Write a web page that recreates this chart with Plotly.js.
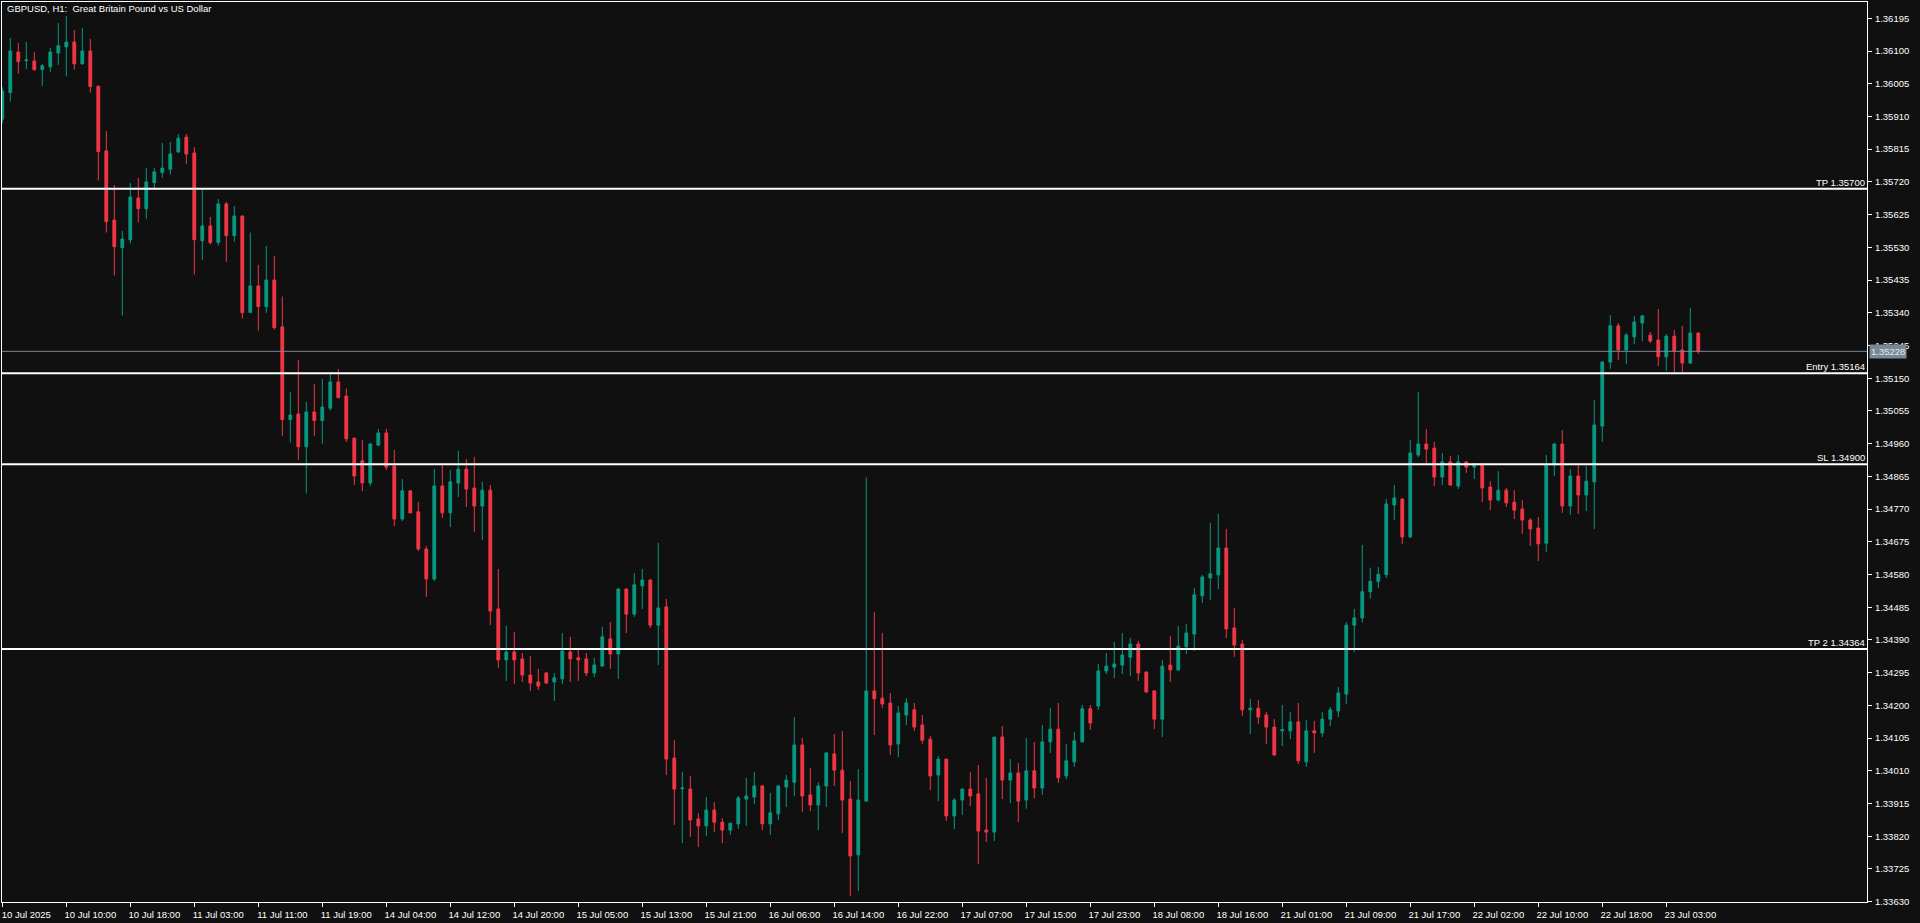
<!DOCTYPE html>
<html>
<head>
<meta charset="utf-8">
<script src="https://cdn.plot.ly/plotly-3.0.1.min.js"></script>
<style>
html,body{margin:0;padding:0;background:#101010;overflow:hidden;}
#chart{width:1920px;height:923px;}
</style>
</head>
<body>
<div id="chart"></div>
<script>
// ---- Data (GBPUSD H1, bar by bar) ----
const openPrices = [
1.35902,1.35979,1.36097,1.36072,1.36071,1.36046,1.36054,1.36094,1.36112,1.36126,
1.36063,1.36100,1.35998,1.35810,1.35609,1.35529,1.35552,1.35673,1.35642,1.35718,
1.35747,1.35757,1.35807,1.35850,1.35804,1.35549,1.35592,1.35544,1.35656,1.35564,
1.35621,1.35341,1.35418,1.35358,1.35435,1.35299,1.35030,1.35046,1.34951,1.35052,
1.35027,1.35063,1.35139,1.35098,1.34976,1.34910,1.34846,1.34956,1.34991,1.34895,
1.34741,1.34823,1.34762,1.34654,1.34567,1.34837,1.34759,1.34846,1.34886,1.34831,
1.34779,1.34825,1.34480,1.34332,1.34355,1.34335,1.34288,1.34268,1.34294,1.34268,
1.34277,1.34355,1.34338,1.34335,1.34294,1.34314,1.34393,1.34349,1.34538,1.34465,
1.34547,1.34564,1.34433,1.34486,1.34047,1.33958,1.33957,1.33870,1.33850,1.33896,
1.33861,1.33838,1.33856,1.33928,1.33934,1.33966,1.33856,1.33885,1.33963,1.33977,
1.34085,1.33940,1.33911,1.33966,1.34059,1.34012,1.33928,1.33766,1.33922,1.34242,
1.34221,1.34207,1.34088,1.34172,1.34187,1.34143,1.34102,1.33998,1.34044,1.33879,
1.33925,1.33957,1.33943,1.33838,1.33832,1.34108,1.33983,1.34004,1.33925,1.34010,
1.33960,1.34094,1.34131,1.33995,1.34036,1.34094,1.34190,1.34198,1.34300,1.34311,
1.34317,1.34340,1.34378,1.34297,1.34242,1.34160,1.34317,1.34303,1.34370,1.34407,
1.34518,1.34570,1.34579,1.34657,1.34425,1.34378,1.34187,1.34192,1.34172,1.34137,
1.34126,1.34126,1.34152,1.34036,1.34126,1.34120,1.34160,1.34184,1.34233,1.34433,
1.34454,1.34530,1.34560,1.34580,1.34782,1.34799,1.34689,1.34927,1.34959,1.34947,
1.34863,1.34907,1.34837,1.34907,1.34892,1.34898,1.34834,1.34796,1.34825,1.34790,
1.34770,1.34738,1.34715,1.34671,1.34898,1.34959,1.34779,1.34866,1.34811,1.34849,
1.35011,1.35197,1.35302,1.35232,1.35270,1.35310,1.35275,1.35261,1.35212,1.35272,
1.35232,1.35194,1.35281];
const highPrices = [
1.35995,1.36138,1.36124,1.36126,1.36097,1.36062,1.36109,1.36181,1.36202,1.36161,
1.36167,1.36135,1.35999,1.35868,1.35711,1.35578,1.35717,1.35731,1.35760,1.35760,
1.35833,1.35836,1.35859,1.35859,1.35821,1.35699,1.35618,1.35670,1.35662,1.35650,
1.35622,1.35573,1.35479,1.35534,1.35505,1.35387,1.35110,1.35203,1.35081,1.35133,
1.35148,1.35162,1.35177,1.35120,1.34977,1.34971,1.34962,1.35003,1.35003,1.34942,
1.34857,1.34824,1.34791,1.34663,1.34886,1.34898,1.34883,1.34939,1.34915,1.34921,
1.34849,1.34840,1.34596,1.34431,1.34413,1.34352,1.34343,1.34306,1.34297,1.34294,
1.34410,1.34399,1.34361,1.34352,1.34338,1.34428,1.34442,1.34539,1.34539,1.34584,
1.34596,1.34567,1.34672,1.34509,1.34100,1.34007,1.33995,1.33887,1.33934,1.33919,
1.33873,1.33859,1.33937,1.33989,1.34007,1.33969,1.33946,1.33969,1.33998,1.34166,
1.34105,1.34018,1.33977,1.34065,1.34117,1.34126,1.33980,1.34015,1.34862,1.34471,
1.34410,1.34236,1.34198,1.34221,1.34207,1.34172,1.34111,1.34053,1.34045,1.33931,
1.33958,1.34007,1.34027,1.33989,1.34108,1.34140,1.34044,1.34033,1.34105,1.34094,
1.34143,1.34192,1.34207,1.34088,1.34123,1.34201,1.34201,1.34320,1.34352,1.34384,
1.34410,1.34396,1.34387,1.34298,1.34243,1.34332,1.34401,1.34430,1.34436,1.34541,
1.34579,1.34730,1.34756,1.34712,1.34483,1.34390,1.34219,1.34216,1.34181,1.34160,
1.34201,1.34181,1.34207,1.34158,1.34155,1.34181,1.34195,1.34253,1.34442,1.34480,
1.34666,1.34600,1.34602,1.34799,1.34840,1.34802,1.34971,1.35110,1.35002,1.34965,
1.34933,1.34924,1.34927,1.34908,1.34903,1.34901,1.34851,1.34880,1.34831,1.34825,
1.34796,1.34744,1.34747,1.34927,1.34962,1.34999,1.34886,1.34898,1.34895,1.35087,
1.35200,1.35333,1.35310,1.35281,1.35331,1.35333,1.35284,1.35351,1.35278,1.35290,
1.35302,1.35354,1.35284];
const lowPrices = [
1.35890,1.35953,1.36034,1.36048,1.36042,1.35999,1.36039,1.36060,1.36026,1.36046,
1.36060,1.35979,1.35724,1.35573,1.35448,1.35332,1.35541,1.35602,1.35613,1.35697,
1.35732,1.35741,1.35804,1.35773,1.35451,1.35494,1.35538,1.35535,1.35488,1.35546,
1.35323,1.35340,1.35288,1.35340,1.35291,1.34983,1.34963,1.34913,1.34815,1.34983,
1.34960,1.35056,1.35091,1.34965,1.34840,1.34822,1.34837,1.34953,1.34883,1.34721,
1.34735,1.34758,1.34648,1.34515,1.34561,1.34744,1.34718,1.34805,1.34776,1.34703,
1.34680,1.34433,1.34309,1.34271,1.34262,1.34268,1.34242,1.34245,1.34262,1.34213,
1.34262,1.34268,1.34271,1.34285,1.34282,1.34313,1.34306,1.34277,1.34410,1.34457,
1.34480,1.34425,1.34317,1.33998,1.33853,1.33800,1.33818,1.33789,1.33821,1.33832,
1.33800,1.33824,1.33841,1.33850,1.33914,1.33838,1.33824,1.33867,1.33905,1.33937,
1.33890,1.33893,1.33838,1.33905,1.33966,1.33829,1.33646,1.33661,1.33921,1.34114,
1.34192,1.34056,1.34050,1.34143,1.34126,1.34088,1.33954,1.33922,1.33864,1.33841,
1.33882,1.33908,1.33739,1.33803,1.33806,1.33928,1.33916,1.33861,1.33900,1.33930,
1.33940,1.34062,1.33975,1.33985,1.34021,1.34093,1.34129,1.34187,1.34291,1.34279,
1.34291,1.34285,1.34271,1.34236,1.34131,1.34108,1.34268,1.34300,1.34349,1.34358,
1.34497,1.34506,1.34538,1.34396,1.34341,1.34169,1.34117,1.34146,1.34088,1.34053,
1.34082,1.34102,1.34030,1.34021,1.34062,1.34108,1.34140,1.34166,1.34204,1.34355,
1.34440,1.34510,1.34540,1.34570,1.34738,1.34669,1.34686,1.34921,1.34903,1.34837,
1.34840,1.34837,1.34828,1.34875,1.34857,1.34790,1.34767,1.34793,1.34776,1.34741,
1.34698,1.34663,1.34619,1.34645,1.34866,1.34759,1.34753,1.34756,1.34764,1.34712,
1.34965,1.35177,1.35203,1.35191,1.35249,1.35258,1.35252,1.35185,1.35171,1.35168,
1.35168,1.35191,1.35220];
const closePrices = [
1.35984,1.36100,1.36069,1.36074,1.36046,1.36057,1.36097,1.36115,1.36126,1.36063,
1.36100,1.35997,1.35808,1.35605,1.35532,1.35554,1.35676,1.35642,1.35720,1.35749,
1.35760,1.35801,1.35847,1.35801,1.35552,1.35592,1.35544,1.35656,1.35564,1.35621,
1.35340,1.35418,1.35358,1.35435,1.35297,1.35030,1.35043,1.34951,1.35052,1.35027,
1.35066,1.35139,1.35094,1.34974,1.34866,1.34846,1.34959,1.34991,1.34892,1.34741,
1.34823,1.34759,1.34654,1.34567,1.34837,1.34759,1.34849,1.34886,1.34828,1.34779,
1.34825,1.34474,1.34332,1.34355,1.34332,1.34288,1.34265,1.34256,1.34265,1.34280,
1.34358,1.34335,1.34332,1.34294,1.34317,1.34399,1.34349,1.34538,1.34465,1.34550,
1.34564,1.34433,1.34483,1.34044,1.33957,1.33960,1.33867,1.33850,1.33896,1.33861,
1.33838,1.33858,1.33931,1.33937,1.33966,1.33856,1.33888,1.33966,1.33983,1.34085,
1.33937,1.33911,1.33966,1.34062,1.34012,1.33925,1.33763,1.33925,1.34242,1.34219,
1.34204,1.34085,1.34178,1.34207,1.34137,1.34099,1.33995,1.34044,1.33879,1.33925,
1.33957,1.33937,1.33835,1.33832,1.34108,1.33983,1.34004,1.33922,1.34010,1.33960,
1.34094,1.34131,1.33990,1.34039,1.34097,1.34190,1.34149,1.34300,1.34314,1.34320,
1.34346,1.34378,1.34294,1.34239,1.34160,1.34314,1.34303,1.34372,1.34410,1.34521,
1.34573,1.34582,1.34657,1.34422,1.34375,1.34187,1.34192,1.34166,1.34137,1.34056,
1.34130,1.34152,1.34039,1.34126,1.34120,1.34160,1.34187,1.34236,1.34433,1.34454,
1.34530,1.34560,1.34580,1.34785,1.34802,1.34689,1.34933,1.34959,1.34944,1.34863,
1.34907,1.34840,1.34907,1.34892,1.34901,1.34831,1.34796,1.34825,1.34788,1.34767,
1.34738,1.34712,1.34669,1.34898,1.34959,1.34779,1.34866,1.34811,1.34851,1.35014,
1.35197,1.35302,1.35232,1.35275,1.35313,1.35331,1.35258,1.35212,1.35272,1.35229,
1.35194,1.35281,1.35228];

// Time-axis labels (one every 8 bars, as drawn by the terminal)
const timeLabels = ["10 Jul 2025","10 Jul 10:00","10 Jul 18:00","11 Jul 03:00","11 Jul 11:00",
"11 Jul 19:00","14 Jul 04:00","14 Jul 12:00","14 Jul 20:00","15 Jul 05:00","15 Jul 13:00",
"15 Jul 21:00","16 Jul 06:00","16 Jul 14:00","16 Jul 22:00","17 Jul 07:00","17 Jul 15:00",
"17 Jul 23:00","18 Jul 08:00","18 Jul 16:00","21 Jul 01:00","21 Jul 09:00","21 Jul 17:00",
"22 Jul 02:00","22 Jul 10:00","22 Jul 18:00","23 Jul 03:00"];
const barsPerLabel = 8;

// Trade levels
const levelNames  = ["TP","Entry","SL","TP 2"];
const levelValues = [1.35700,1.35164,1.34900,1.34364];
const bidPrice = 1.35228;

// Price scale ticks
const priceTick0 = 1.33725;
const priceStep  = 0.00095;

// ---- Build ----
const GREEN = "#089981", RED = "#F23645", BG = "#101010";
const barIndex = openPrices.map((_, i) => i);
const tickPositions = timeLabels.map((_, k) => k * barsPerLabel);
const FONT = "Liberation Sans, Arial, sans-serif";

const trace = {
  type: "candlestick",
  x: barIndex,
  open: openPrices, high: highPrices, low: lowPrices, close: closePrices,
  increasing: {line: {color: GREEN, width: 1}, fillcolor: GREEN},
  decreasing: {line: {color: RED, width: 1}, fillcolor: RED},
  whiskerwidth: 0,
  hoverinfo: "skip",
  showlegend: false
};

const shapes = levelValues.map(v => ({
  type: "line", xref: "paper", x0: 0, x1: 1, yref: "y", y0: v, y1: v,
  line: {color: "#ffffff", width: 2}, layer: "above"
}));
shapes.unshift({
  type: "line", xref: "paper", x0: 0, x1: 1, yref: "y", y0: bidPrice, y1: bidPrice,
  line: {color: "#778899", width: 1}, layer: "above"
});

const annotations = levelNames.map((n, k) => ({
  xref: "paper", x: 1, xanchor: "right", xshift: -1,
  yref: "y", y: levelValues[k], yanchor: "bottom", yshift: 0,
  text: n + " " + levelValues[k].toFixed(5),
  showarrow: false, font: {family: FONT, size: 9.5, color: "#ffffff"}, borderpad: 0
}));
annotations.push({
  xref: "paper", x: 1, xanchor: "left", xshift: 2,
  yref: "y", y: bidPrice, yanchor: "middle",
  text: bidPrice.toFixed(5), showarrow: false,
  bgcolor: "#778899", borderpad: 1,
  font: {family: FONT, size: 9.5, color: "#e8e8e8"}
});

const layout = {
  width: 1920, height: 923,
  paper_bgcolor: BG, plot_bgcolor: BG,
  margin: {l: 2, r: 53, t: 2, b: 21, pad: 0},
  title: {
    text: "GBPUSD, H1:\u00a0 Great Britain Pound vs US Dollar",
    xref: "paper", x: 0, xanchor: "left",
    yref: "paper", y: 1, yanchor: "top",
    pad: {l: 5, t: 3},
    font: {family: FONT, size: 9.5, color: "#ffffff"}
  },
  showlegend: false,
  boxgap: 0.5,
  xaxis: {
    type: "linear",
    range: [-0.0375, 233.09],
    tickmode: "array", tickvals: tickPositions, ticktext: timeLabels,
    ticks: "outside", ticklen: 4, tickcolor: "#ffffff", tickwidth: 1,
    ticklabelshift: 24, ticklabelstandoff: 0,
    showline: true, linecolor: "#ffffff", linewidth: 1, mirror: true,
    showgrid: false, zeroline: false,
    rangeslider: {visible: false},
    tickfont: {family: FONT, size: 9.5, color: "#ffffff"},
    fixedrange: true
  },
  yaxis: {
    side: "right",
    range: [1.336291, 1.362423],
    tickmode: "linear", tick0: priceTick0, dtick: priceStep,
    tickformat: ".5f",
    ticks: "outside", ticklen: 4, tickcolor: "#ffffff", tickwidth: 1,
    ticklabelstandoff: 1,
    showline: true, linecolor: "#ffffff", linewidth: 1, mirror: true,
    showgrid: false, zeroline: false,
    tickfont: {family: FONT, size: 9.5, color: "#ffffff"},
    fixedrange: true
  },
  shapes: shapes,
  annotations: annotations
};

Plotly.newPlot("chart", [trace], layout, {displayModeBar: false, staticPlot: true});
</script>
</body>
</html>
